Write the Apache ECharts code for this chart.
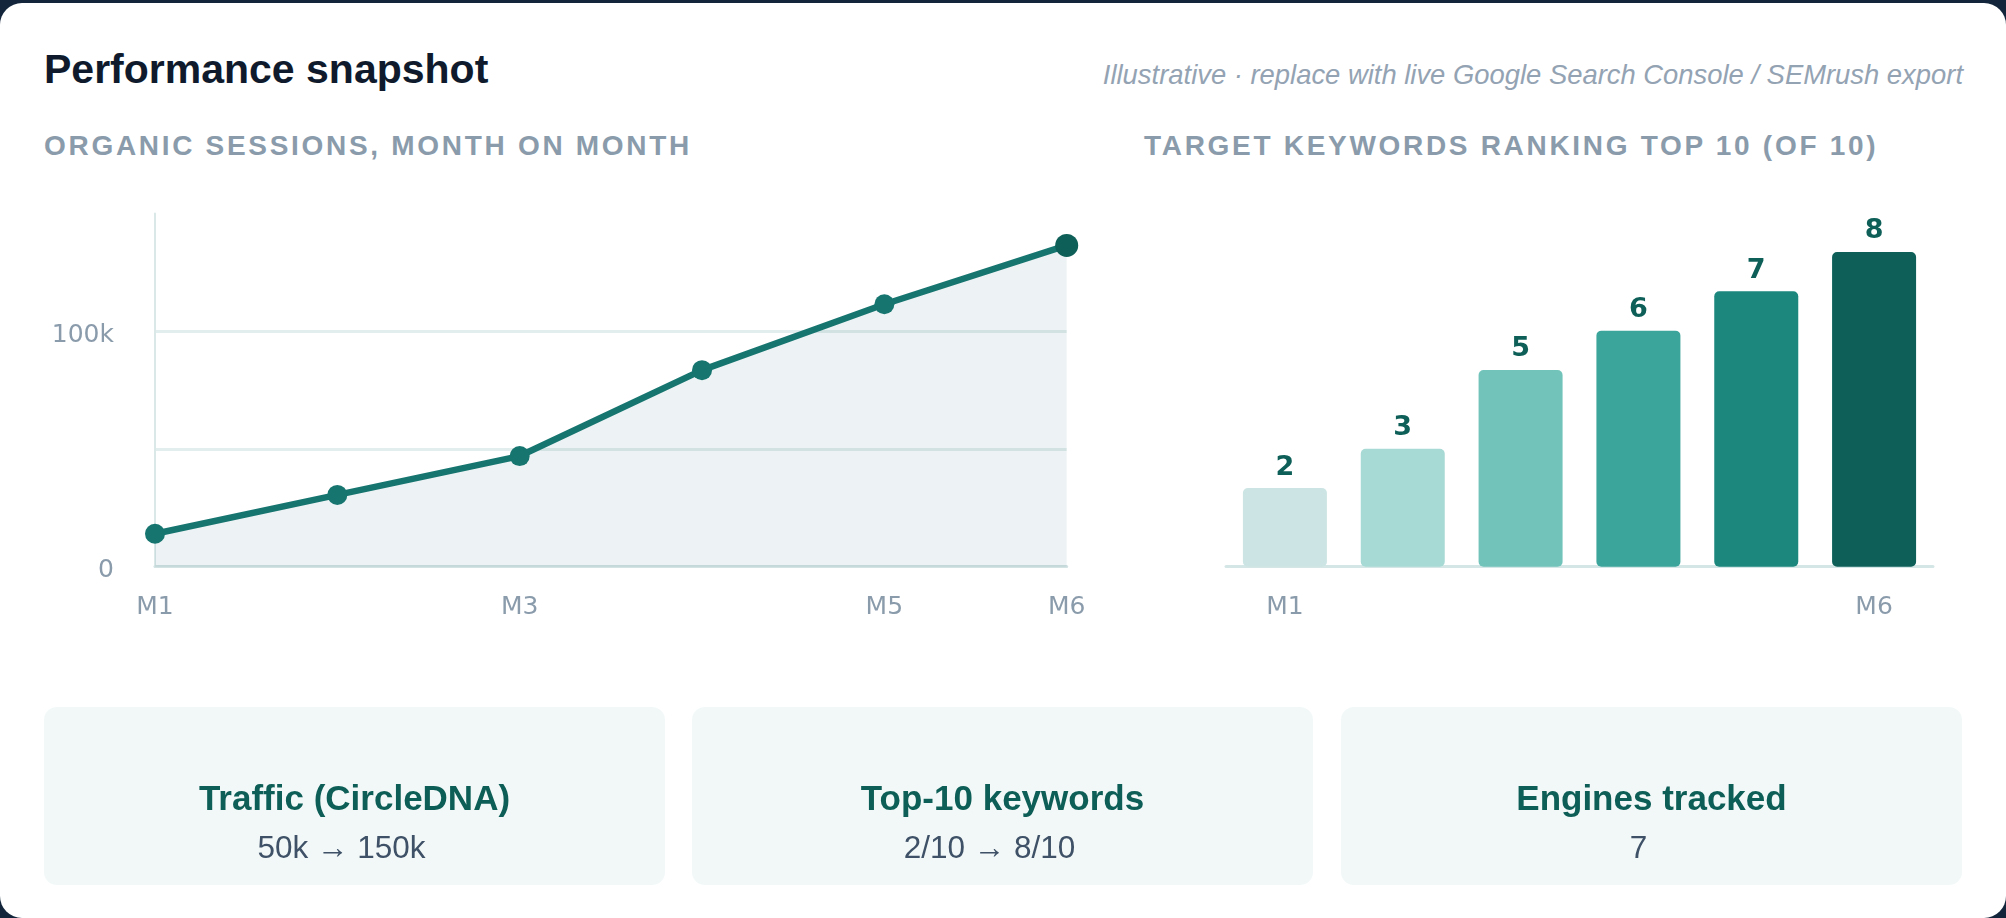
<!DOCTYPE html>
<html>
<head>
<meta charset="utf-8">
<script src="https://cdn.jsdelivr.net/npm/echarts@6/dist/echarts.min.js"></script>
<style>
  html, body { margin: 0; padding: 0; }
  body { width: 2006px; height: 918px; background: #12253b; position: relative; overflow: hidden; font-family: "Liberation Sans", Arial, sans-serif; }
  .card { position: absolute; left: 0; top: 3px; width: 2006px; height: 915px; background: #fff; border-radius: 22px; }
  .t { position: absolute; white-space: nowrap; }
  #title { left: 44px; top: 44px; line-height: 50px; font-size: 41px; font-weight: 700; color: #0f1b2d; }
  #note { right: 43px; top: 55px; line-height: 40px; font-size: 27.4px; font-style: italic; color: #94a3b3; }
  .head { top: 128px; line-height: 36px; font-size: 28px; font-weight: 700; color: #8a9bab; letter-spacing: 2.7px; }
  #main { position: absolute; left: 0; top: 0; width: 2006px; height: 918px; }
  .kpi { position: absolute; top: 707px; width: 621px; height: 178px; background: #f2f8f8; border-radius: 13px; text-align: center; }
  .kpi .k { position: absolute; left: 0; right: 0; top: 71px; line-height: 40px; font-size: 35px; font-weight: 700; color: #0d5e56; }
  .kpi .v { position: absolute; left: 0; right: 26px; top: 120px; line-height: 40px; font-size: 31.5px; color: #3e5166; }
</style>
</head>
<body>
<div class="card"></div>
<div class="t" id="title">Performance snapshot</div>
<div class="t" id="note">Illustrative · replace with live Google Search Console / SEMrush export</div>
<div class="t head" style="left:44px">ORGANIC SESSIONS, MONTH ON MONTH</div>
<div class="t head" style="left:1144px">TARGET KEYWORDS RANKING TOP 10 (OF 10)</div>
<div id="main"></div>
<div id="kpis"></div>
<script>
// data
const months = ["M1", "M2", "M3", "M4", "M5", "M6"];
const sessions = [14000, 30500, 47000, 83500, 111500, 136500];
const keywordsTop10 = [2, 3, 5, 6, 7, 8];
const barColors = ["#cce5e4", "#a8dad5", "#72c4bb", "#3ca59b", "#1b877d", "#0d5f58"];
const kpiTitles = ["Traffic (CircleDNA)", "Top-10 keywords", "Engines tracked"];
const kpiValues = ["50k → 150k", "2/10 → 8/10", "7"];

const kpiBox = document.getElementById("kpis");
const kpiLeft = [44, 692, 1341];
kpiTitles.forEach((name, i) => {
  const el = document.createElement("div");
  el.className = "kpi";
  el.style.left = kpiLeft[i] + "px";
  el.innerHTML = `<div class="k">${name}</div><div class="v">${kpiValues[i]}</div>`;
  kpiBox.appendChild(el);
});

const chartDom = document.getElementById("main");
const myChart = echarts.init(chartDom, null, { renderer: "canvas" });
const labelFont = { color: "#8a9bab", fontSize: 25, fontFamily: "DejaVu Sans" };
const last = sessions.length - 1;

const option = {
  animation: false,
  grid: [
    { left: 155, top: 213.6, width: 911.7, height: 353.1 },
    { left: 1226, top: 212.6, width: 707, height: 354.1 },
  ],
  xAxis: [
    {
      gridIndex: 0,
      type: "category",
      data: months,
      boundaryGap: false,
      axisLine: { lineStyle: { color: "#d3e2e3", width: 3 } },
      axisTick: { show: false },
      axisLabel: {
        ...labelFont,
        margin: 28,
        interval: (i) => i === 0 || i === 2 || i === 4 || i === 5,
      },
    },
    {
      gridIndex: 1,
      type: "category",
      data: months,
      axisLine: { lineStyle: { color: "#d5e6e6", width: 3 } },
      axisTick: { show: false },
      axisLabel: {
        ...labelFont,
        margin: 28,
        interval: (i) => i === 0 || i === 5,
      },
    },
  ],
  yAxis: [
    {
      gridIndex: 0,
      type: "value",
      min: 0,
      max: 150000,
      interval: 50000,
      axisLine: { show: true, lineStyle: { color: "#dbe8e8", width: 2 } },
      axisTick: { show: false },
      axisLabel: {
        ...labelFont,
        margin: 41,
        formatter: (v) =>
          v === 0 ? "{t|0}" : v === 100000 ? "{t|100k}" : "",
        rich: {
          t: { ...labelFont, padding: [8, 0, 0, 0] },
        },
      },
      splitLine: {
        showMaxLine: false,
        lineStyle: { color: "#e2eded", width: 3 },
      },
    },
    {
      gridIndex: 1,
      type: "value",
      min: 0,
      max: 9,
      show: false,
    },
  ],
  series: [
    {
      type: "line",
      xAxisIndex: 0,
      yAxisIndex: 0,
      data: sessions.map((v, i) =>
        i === last
          ? { value: v, symbolSize: 23, itemStyle: { color: "#0e5f57" } }
          : v
      ),
      symbol: "circle",
      symbolSize: 20,
      lineStyle: { color: "#177570", width: 6.5 },
      itemStyle: { color: "#177570" },
      areaStyle: { color: "rgba(20,100,115,0.11)" },
      z: 3,
    },
    {
      type: "bar",
      xAxisIndex: 1,
      yAxisIndex: 1,
      barWidth: 84,
      data: keywordsTop10.map((v, i) => ({
        value: v,
        itemStyle: { color: barColors[i] },
      })),
      itemStyle: { borderRadius: 5 },
      label: {
        show: true,
        position: "top",
        distance: 7,
        fontSize: 27,
        fontWeight: "bold",
        fontFamily: "DejaVu Sans",
        color: "#0d5f58",
      },
    },
  ],
};

option && myChart.setOption(option);
</script>
</body>
</html>
